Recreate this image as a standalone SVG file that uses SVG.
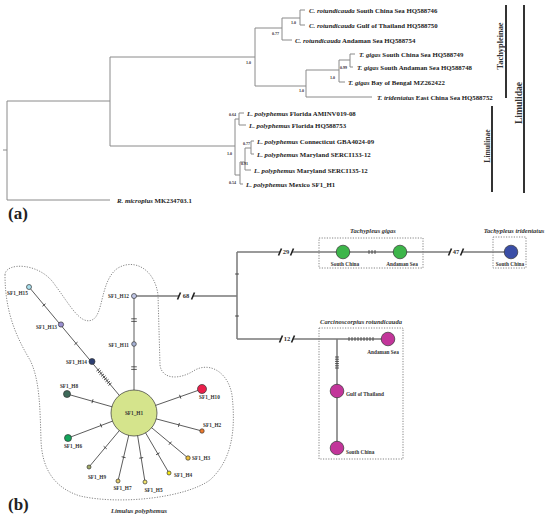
<svg xmlns="http://www.w3.org/2000/svg" xmlns:xlink="http://www.w3.org/1999/xlink" width="550" height="523" viewBox="0 0 550 523">
<style>
.tl{stroke:#8a8a8a;stroke-width:1;fill:none}
.lab{font-family:"Liberation Serif",serif;font-weight:bold;font-size:6.8px;fill:#222}
.sp{font-style:italic}
.sup{font-family:"Liberation Serif",serif;font-weight:bold;font-size:4px;fill:#333}
.br{stroke:#333;stroke-width:2}
.grp{font-family:"Liberation Serif",serif;font-weight:bold;fill:#333}
.pl{font-family:"Liberation Serif",serif;font-weight:bold;font-size:17px;fill:#222}
.nl{stroke:#4a4a4a;stroke-width:0.9;fill:none}
.gl{stroke:#7a7a7a;stroke-width:1.5;fill:none}
.hl{font-family:"Liberation Serif",serif;font-weight:bold;font-size:5.3px;fill:#333}
.tk{stroke:#333;stroke-width:0.8}
.sl{stroke:#222;stroke-width:1.6}
.dot{fill:none;stroke:#777;stroke-width:0.9;stroke-dasharray:1.2 1.4}
.ttl{font-family:"Liberation Serif",serif;font-style:italic;font-weight:bold;font-size:6.5px;fill:#333}
.num{font-family:"Liberation Serif",serif;font-weight:bold;font-size:6.5px;fill:#333}
.node{stroke:#333;stroke-width:0.7}
</style>
<defs>
<line id="tk" x1="0" y1="-2" x2="0" y2="2" class="tk"/>
<line id="tkw" x1="0" y1="-2.8" x2="0" y2="2.8" class="tk"/>
<line id="sl" x1="-1.5" y1="3.5" x2="1.5" y2="-3.5" class="sl"/>
</defs>
<rect width="550" height="523" fill="#fff"/>

<!-- (a) phylogenetic tree -->
<g id="tree">
<path class="tl" d="M3,150H7 M7,101V200 M7,101H110 M7,200H110 M110,57V146 M110,57H255 M255,28V86 M255,28H282 M282,18V40 M282,18H300 M300,10V25 M300,10H305 M300,25H305 M282,40H292 M255,86H306 M306,70V97 M306,70H339 M339,60V82 M339,60H350 M350,54V67 M350,54H355 M350,67H353 M339,82H345 M306,97H372"/>
<path class="tl" d="M110,146H235 M235,119V175 M235,119H239 M239,113V125 M239,113H244 M239,125H246 M235,175H240 M240,162V184 M240,162H245 M245,148V170 M245,148H251 M251,141V154 M251,141H254 M251,154H254 M245,170H251 M240,184H243"/>
<text class="lab" x="309" y="12.5"><tspan class="sp">C. rotundicauda</tspan> South China Sea HQ588746</text>
<text class="lab" x="309" y="27.5"><tspan class="sp">C. rotundicauda</tspan> Gulf of Thailand HQ588750</text>
<text class="lab" x="295" y="42.5"><tspan class="sp">C. rotundicauda</tspan> Andaman Sea HQ588754</text>
<text class="lab" x="359" y="56.5"><tspan class="sp">T. gigas</tspan> South China Sea HQ588749</text>
<text class="lab" x="357" y="69.5"><tspan class="sp">T. gigas</tspan> South Andaman Sea HQ588748</text>
<text class="lab" x="348" y="84.5"><tspan class="sp">T. gigas</tspan> Bay of Bengal MZ262422</text>
<text class="lab" x="377" y="99.5"><tspan class="sp">T. tridentatus</tspan> East China Sea HQ588752</text>
<text class="lab" x="247" y="115.5"><tspan class="sp">L. polyphemus</tspan> Florida AMINV019-08</text>
<text class="lab" x="249" y="127.5"><tspan class="sp">L. polyphemus</tspan> Florida HQ588753</text>
<text class="lab" x="257" y="143.5"><tspan class="sp">L. polyphemus</tspan> Connecticut GBA4024-09</text>
<text class="lab" x="257" y="156.5"><tspan class="sp">L. polyphemus</tspan> Maryland SERCI133-12</text>
<text class="lab" x="254" y="172.5"><tspan class="sp">L. polyphemus</tspan> Maryland SERCI135-12</text>
<text class="lab" x="246" y="186.5"><tspan class="sp">L. polyphemus</tspan> Mexico SF1_H1</text>
<text class="lab" x="117" y="202.5"><tspan class="sp">R. microplus</tspan> MK234703.1</text>
<text class="sup" x="279" y="34.5" text-anchor="end">0.77</text>
<text class="sup" x="296" y="23.5" text-anchor="end">1.0</text>
<text class="sup" x="251" y="63.5" text-anchor="end">1.0</text>
<text class="sup" x="347" y="68.5" text-anchor="end">0.99</text>
<text class="sup" x="335" y="78.5" text-anchor="end">1.0</text>
<text class="sup" x="304" y="91.5" text-anchor="end">1.0</text>
<text class="sup" x="236" y="115.5" text-anchor="end">0.64</text>
<text class="sup" x="232" y="154.5" text-anchor="end">1.0</text>
<text class="sup" x="250" y="144.5" text-anchor="end">0.77</text>
<text class="sup" x="248" y="164.5" text-anchor="end">0.91</text>
<text class="sup" x="236" y="183.5" text-anchor="end">0.54</text>
</g>
<g id="groups">
<line class="br" x1="506" y1="5" x2="506" y2="98"/>
<line class="br" x1="524" y1="5" x2="524" y2="193"/>
<line class="br" x1="492" y1="106" x2="492" y2="192"/>
<text class="grp" font-size="8.4" transform="translate(503,46) rotate(-90)" text-anchor="middle">Tachypleinae</text>
<text class="grp" font-size="9.6" transform="translate(522,103) rotate(-90)" text-anchor="middle">Limulidae</text>
<text class="grp" font-size="7.6" transform="translate(490,146) rotate(-90)" text-anchor="middle">Limulinae</text>
</g>
<text class="pl" x="8" y="219">(a)</text>

<!-- (b) haplotype network -->
<path class="dot" d="M5,275 C5,262 40,262 55,285 C70,305 80,325 92,320 C104,315 100,280 118,268 C135,258 155,270 158,295 L160,365 C162,380 180,380 195,370 C210,362 228,372 232,395 C236,430 232,460 210,480 C185,498 120,505 80,496 C55,488 42,470 41,440 C40,410 40,380 30,360 C15,335 5,310 5,275 Z"/>
<rect class="dot" x="319" y="238" width="104" height="30"/>
<rect class="dot" x="493" y="237" width="33" height="31"/>
<rect class="dot" x="319" y="328" width="84" height="131"/>

<g id="connectors">
<path class="nl" d="M29,287L134,413 M134,296V413 M134,413L67,394 M134,413L68,438 M134,413L89,467 M134,413L118,481 M134,413L145,482 M134,413L169,473 M134,413L188,458 M134,413L202,431 M134,413L202,389"/>
<path class="gl" d="M134,296H179 M193,296H237 M237,252V339 M237,252H280 M292,252H450 M462,252H511 M237,339H281 M293,339H388 M337,339V448"/>
<g class="ticks">
<use xlink:href="#tk" transform="translate(44,305) rotate(50.2)"/>
<use xlink:href="#tk" transform="translate(76,343.4) rotate(50.2)"/>
<use xlink:href="#tk" transform="translate(98,369.8) rotate(50.2)"/>
<use xlink:href="#tk" transform="translate(99.5,371.6) rotate(50.2)"/>
<use xlink:href="#tk" transform="translate(101,373.4) rotate(50.2)"/>
<use xlink:href="#tk" transform="translate(102.5,375.2) rotate(50.2)"/>
<use xlink:href="#tk" transform="translate(104,377) rotate(50.2)"/>
<use xlink:href="#tk" transform="translate(105.5,378.8) rotate(50.2)"/>
<use xlink:href="#tk" transform="translate(107,380.6) rotate(50.2)"/>
<use xlink:href="#tk" transform="translate(108.5,382.4) rotate(50.2)"/>
<use xlink:href="#tk" transform="translate(110,384.2) rotate(50.2)"/>
<use xlink:href="#tkw" transform="translate(134,318.8) rotate(90)"/>
<use xlink:href="#tkw" transform="translate(134,321.4) rotate(90)"/>
<use xlink:href="#tkw" transform="translate(134,366.8) rotate(90)"/>
<use xlink:href="#tkw" transform="translate(134,369.4) rotate(90)"/>
<use xlink:href="#tk" transform="translate(92.5,401.2) rotate(-164.2)"/>
<use xlink:href="#tk" transform="translate(101,425.5) rotate(159.3)"/>
<use xlink:href="#tk" transform="translate(105.2,447.6) rotate(129.8)"/>
<use xlink:href="#tk" transform="translate(123.6,457.2) rotate(103.2)"/>
<use xlink:href="#tk" transform="translate(141.2,457.9) rotate(80.9)"/>
<use xlink:href="#tk" transform="translate(157.8,453.8) rotate(59.7)"/>
<use xlink:href="#tk" transform="translate(170.2,443.2) rotate(39.8)"/>
<use xlink:href="#tk" transform="translate(178.9,424.9) rotate(14.8)"/>
<use xlink:href="#tk" transform="translate(180.2,396.7) rotate(-19.4)"/>
<use xlink:href="#tk" transform="translate(237,274) rotate(90)"/>
<use xlink:href="#tk" transform="translate(237,316) rotate(90)"/>
<use xlink:href="#tk" transform="translate(369,252)"/>
<use xlink:href="#tk" transform="translate(372,252)"/>
<use xlink:href="#tk" transform="translate(375,252)"/>
<use xlink:href="#tk" transform="translate(349,339)"/>
<use xlink:href="#tk" transform="translate(352,339)"/>
<use xlink:href="#tk" transform="translate(355,339)"/>
<use xlink:href="#tk" transform="translate(358,339)"/>
<use xlink:href="#tk" transform="translate(361,339)"/>
<use xlink:href="#tk" transform="translate(364,339)"/>
<use xlink:href="#tk" transform="translate(367,339)"/>
<use xlink:href="#tk" transform="translate(370,339)"/>
<use xlink:href="#tk" transform="translate(373,339)"/>
<use xlink:href="#tk" transform="translate(337,357) rotate(90)"/>
<use xlink:href="#tk" transform="translate(337,359.2) rotate(90)"/>
<use xlink:href="#tk" transform="translate(337,361.4) rotate(90)"/>
<use xlink:href="#tk" transform="translate(337,363.6) rotate(90)"/>
<use xlink:href="#tk" transform="translate(337,365.8) rotate(90)"/>
<use xlink:href="#tk" transform="translate(337,368) rotate(90)"/>
</g>
<use xlink:href="#sl" x="179" y="296"/>
<use xlink:href="#sl" x="193" y="296"/>
<use xlink:href="#sl" x="280" y="252"/>
<use xlink:href="#sl" x="292" y="252"/>
<use xlink:href="#sl" x="450" y="252"/>
<use xlink:href="#sl" x="462" y="252"/>
<use xlink:href="#sl" x="281" y="339"/>
<use xlink:href="#sl" x="293" y="339"/>
<text class="num" x="186" y="298.3" text-anchor="middle" font-size="7">68</text>
<text class="num" x="286" y="254.2" text-anchor="middle" font-size="6">29</text>
<text class="num" x="456" y="254.2" text-anchor="middle" font-size="6">47</text>
<text class="num" x="287" y="341.2" text-anchor="middle" font-size="6">12</text>
</g>

<g id="SF1_H1"><circle class="node" cx="134" cy="413" r="23" fill="#d5e48c"/><text class="hl" x="134" y="415" text-anchor="middle" font-size="4.8">SF1_H1</text></g>
<g id="SF1_H15"><circle class="node" cx="29" cy="287" r="2.5" fill="#a9e0ee"/><text class="hl" x="7" y="295">SF1_H15</text></g>
<g id="SF1_H13"><circle class="node" cx="61" cy="324.5" r="2.6" fill="#9a8fd0"/><text class="hl" x="57" y="329" text-anchor="end">SF1_H13</text></g>
<g id="SF1_H14"><circle class="node" cx="92" cy="361.5" r="3" fill="#2d3f72"/><text class="hl" x="87" y="364" text-anchor="end">SF1_H14</text></g>
<g id="SF1_H12"><circle class="node" cx="134" cy="296" r="2.5" fill="#c0c6e6"/><text class="hl" x="129" y="298" text-anchor="end">SF1_H12</text></g>
<g id="SF1_H11"><circle class="node" cx="134" cy="344" r="2.3" fill="#a7b3d6"/><text class="hl" x="129" y="347" text-anchor="end">SF1_H11</text></g>
<g id="SF1_H8"><circle class="node" cx="67" cy="394" r="3.5" fill="#3e6a5a"/><text class="hl" x="69" y="388" text-anchor="middle">SF1_H8</text></g>
<g id="SF1_H6"><circle class="node" cx="68" cy="438" r="3.5" fill="#12a45a"/><text class="hl" x="73" y="448" text-anchor="middle">SF1_H6</text></g>
<g id="SF1_H9"><circle class="node" cx="89" cy="467" r="2" fill="#a1ab66"/><text class="hl" x="97" y="479" text-anchor="middle">SF1_H9</text></g>
<g id="SF1_H7"><circle class="node" cx="118" cy="481" r="2" fill="#e4cc6a"/><text class="hl" x="122.5" y="490" text-anchor="middle">SF1_H7</text></g>
<g id="SF1_H5"><circle class="node" cx="145" cy="482" r="2" fill="#f2e36a"/><text class="hl" x="153.5" y="492" text-anchor="middle">SF1_H5</text></g>
<g id="SF1_H4"><circle class="node" cx="169" cy="473" r="2" fill="#f7ea10"/><text class="hl" x="174" y="477">SF1_H4</text></g>
<g id="SF1_H3"><circle class="node" cx="188" cy="458" r="2.2" fill="#eec13c"/><text class="hl" x="192" y="460">SF1_H3</text></g>
<g id="SF1_H2"><circle class="node" cx="202" cy="431" r="2.2" fill="#ef7a2c"/><text class="hl" x="203" y="427">SF1_H2</text></g>
<g id="SF1_H10"><circle class="node" cx="202" cy="389" r="4.5" fill="#ea1f4b"/><text class="hl" x="199" y="399">SF1_H10</text></g>
<text class="ttl" x="139" y="513" text-anchor="middle" font-size="7">Limulus polyphemus</text>

<g id="Tg_SouthChina"><circle class="node" cx="343" cy="252" r="6.8" fill="#3db54a"/><text class="hl" x="345" y="266" text-anchor="middle">South China</text></g>
<g id="Tg_Andaman"><circle class="node" cx="400" cy="252" r="6.8" fill="#3db54a"/><text class="hl" x="402" y="266" text-anchor="middle">Andaman Sea</text></g>
<text class="ttl" x="373" y="233" text-anchor="middle">Tachypleus gigas</text>
<g id="Tt_SouthChina"><circle class="node" cx="511" cy="252" r="6.8" fill="#3a4ea6"/><text class="hl" x="510" y="266" text-anchor="middle">South China</text></g>
<text class="ttl" x="514" y="233" text-anchor="middle">Tachypleus tridentatus</text>
<g id="Cr_Andaman"><circle class="node" cx="388" cy="339" r="6.8" fill="#c2359a"/><text class="hl" x="383" y="354" text-anchor="middle">Andaman Sea</text></g>
<g id="Cr_Gulf"><circle class="node" cx="337" cy="391" r="6.8" fill="#c2359a"/><text class="hl" x="346" y="396">Gulf of Thailand</text></g>
<g id="Cr_SouthChina"><circle class="node" cx="337" cy="448" r="6.8" fill="#c2359a"/><text class="hl" x="346" y="454">South China</text></g>
<text class="ttl" x="361" y="324" text-anchor="middle">Carcinoscorpius rotundicauda</text>
<text class="pl" x="8" y="510">(b)</text>
</svg>
